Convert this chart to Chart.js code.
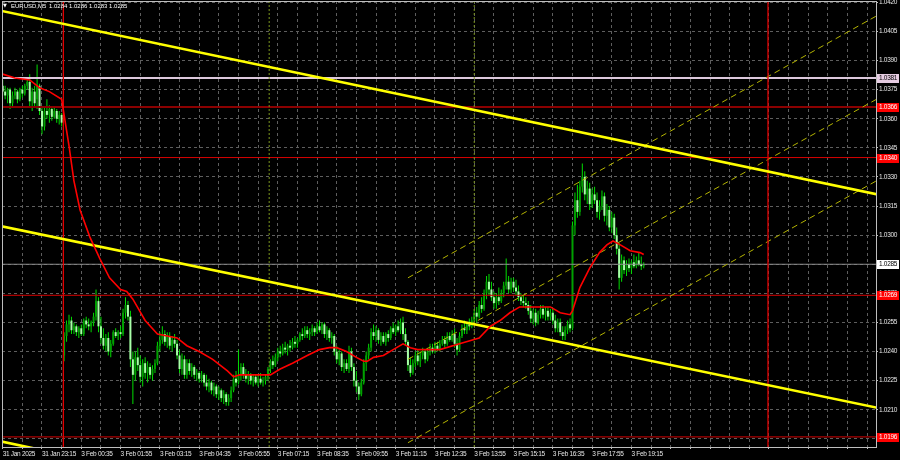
<!DOCTYPE html>
<html lang="en">
<head>
<meta charset="UTF-8">
<title>EURUSD,M5</title>
<script src="https://cdn.jsdelivr.net/npm/chart.js"></script>
<style>
  html, body { margin: 0; padding: 0; background: #000; }
  canvas { display: block; }
</style>
</head>
<body>
<canvas id="chart" width="900" height="460"></canvas>
<script>
// ---- data (EURUSD M5, bar 0 = 31 Jan 21:55) ----
const barOpen = [
  1.0377,1.0374,1.0372,1.0375,1.0368,1.0372,1.0374,1.0370,1.0375,1.0373,
  1.0377,1.0379,1.0369,1.0374,1.0370,1.0377,1.0364,1.0356,1.0364,1.0362,
  1.0365,1.0361,1.0364,1.0360,1.0362,1.0238,1.0248,1.0254,1.0256,1.0251,
  1.0253,1.0250,1.0252,1.0249,1.0256,1.0254,1.0253,1.0255,1.0258,1.0266,
  1.0253,1.0247,1.0243,1.0247,1.0240,1.0244,1.0250,1.0248,1.0250,1.0249,
  1.0260,1.0264,1.0258,1.0236,1.0228,1.0237,1.0233,1.0227,1.0234,1.0229,
  1.0232,1.0228,1.0231,1.0234,1.0243,1.0246,1.0249,1.0245,1.0248,1.0243,
  1.0246,1.0244,1.0238,1.0231,1.0236,1.0228,1.0234,1.0230,1.0232,1.0228,
  1.0229,1.0226,1.0228,1.0224,1.0222,1.0224,1.0220,1.0222,1.0218,1.0220,
  1.0216,1.0218,1.0214,1.0216,1.0220,1.0226,1.0224,1.0228,1.0232,1.0228,
  1.0226,1.0228,1.0225,1.0227,1.0224,1.0226,1.0224,1.0225,1.0227,1.0231,
  1.0235,1.0233,1.0237,1.0240,1.0239,1.0242,1.0241,1.0243,1.0242,1.0245,
  1.0244,1.0246,1.0249,1.0248,1.0251,1.0249,1.0250,1.0252,1.0250,1.0253,
  1.0251,1.0254,1.0249,1.0251,1.0247,1.0248,1.0240,1.0236,1.0239,1.0232,
  1.0234,1.0231,1.0240,1.0232,1.0225,1.0222,1.0218,1.0224,1.0234,1.0238,
  1.0242,1.0250,1.0248,1.0251,1.0246,1.0248,1.0245,1.0249,1.0247,1.0252,
  1.0250,1.0253,1.0251,1.0255,1.0249,1.0245,1.0233,1.0229,1.0234,1.0238,
  1.0235,1.0238,1.0240,1.0236,1.0240,1.0242,1.0240,1.0243,1.0241,1.0244,
  1.0246,1.0244,1.0248,1.0246,1.0249,1.0244,1.0241,1.0248,1.0252,1.0251,
  1.0254,1.0253,1.0256,1.0260,1.0258,1.0264,1.0262,1.0270,1.0276,1.0272,
  1.0268,1.0265,1.0268,1.0266,1.0270,1.0274,1.0276,1.0272,1.0276,1.0273,
  1.0271,1.0268,1.0266,1.0265,1.0264,1.0261,1.0257,1.0260,1.0255,1.0259,
  1.0262,1.0259,1.0261,1.0258,1.0260,1.0256,1.0252,1.0255,1.0250,1.0248,
  1.0251,1.0254,1.0252,1.0305,1.0318,1.0312,1.0325,1.0330,1.0321,1.0324,
  1.0316,1.0321,1.0318,1.0312,1.0315,1.0320,1.0310,1.0313,1.0304,1.0309,
  1.0300,1.0293,1.0278,1.0287,1.0282,1.0285,1.0283,1.0286,1.0284,1.0287,
  1.0285,1.0284
];
const barHigh = [
  1.0380,1.0377,1.0376,1.0376,1.0374,1.0376,1.0375,1.0376,1.0377,1.0378,
  1.0380,1.0383,1.0376,1.0377,1.0388,1.0378,1.0366,1.0366,1.0370,1.0367,
  1.0366,1.0366,1.0365,1.0364,1.0363,1.0250,1.0256,1.0259,1.0258,1.0255,
  1.0254,1.0253,1.0254,1.0257,1.0258,1.0257,1.0256,1.0260,1.0272,1.0268,
  1.0258,1.0252,1.0249,1.0250,1.0246,1.0251,1.0252,1.0251,1.0253,1.0262,
  1.0268,1.0266,1.0261,1.0240,1.0240,1.0242,1.0238,1.0236,1.0237,1.0235,
  1.0234,1.0233,1.0236,1.0245,1.0250,1.0253,1.0251,1.0250,1.0250,1.0248,
  1.0249,1.0246,1.0241,1.0239,1.0238,1.0236,1.0236,1.0234,1.0233,1.0231,
  1.0230,1.0230,1.0229,1.0228,1.0226,1.0225,1.0224,1.0223,1.0222,1.0221,
  1.0220,1.0219,1.0218,1.0222,1.0228,1.0230,1.0241,1.0234,1.0234,1.0231,
  1.0230,1.0229,1.0228,1.0228,1.0228,1.0229,1.0227,1.0228,1.0232,1.0236,
  1.0238,1.0239,1.0242,1.0243,1.0244,1.0245,1.0244,1.0246,1.0247,1.0248,
  1.0247,1.0250,1.0252,1.0253,1.0253,1.0252,1.0254,1.0253,1.0255,1.0256,
  1.0255,1.0255,1.0253,1.0252,1.0250,1.0249,1.0243,1.0241,1.0240,1.0236,
  1.0236,1.0243,1.0242,1.0234,1.0230,1.0224,1.0226,1.0236,1.0240,1.0244,
  1.0252,1.0254,1.0253,1.0252,1.0250,1.0250,1.0250,1.0251,1.0253,1.0255,
  1.0254,1.0256,1.0257,1.0258,1.0252,1.0246,1.0237,1.0236,1.0240,1.0241,
  1.0240,1.0242,1.0241,1.0242,1.0244,1.0244,1.0245,1.0245,1.0246,1.0248,
  1.0248,1.0250,1.0250,1.0251,1.0252,1.0247,1.0250,1.0254,1.0256,1.0255,
  1.0257,1.0258,1.0262,1.0263,1.0266,1.0268,1.0272,1.0279,1.0280,1.0276,
  1.0271,1.0270,1.0273,1.0272,1.0276,1.0288,1.0279,1.0278,1.0278,1.0277,
  1.0274,1.0270,1.0269,1.0268,1.0266,1.0264,1.0262,1.0262,1.0261,1.0264,
  1.0264,1.0263,1.0263,1.0262,1.0262,1.0259,1.0257,1.0257,1.0253,1.0253,
  1.0256,1.0257,1.0307,1.0322,1.0326,1.0328,1.0337,1.0333,1.0328,1.0327,
  1.0324,1.0325,1.0322,1.0318,1.0323,1.0322,1.0316,1.0315,1.0312,1.0311,
  1.0304,1.0296,1.0290,1.0289,1.0287,1.0288,1.0287,1.0290,1.0289,1.0291,
  1.0289,1.0286
];
const barLow = [
  1.0372,1.0370,1.0368,1.0365,1.0366,1.0370,1.0368,1.0369,1.0371,1.0372,
  1.0375,1.0366,1.0364,1.0366,1.0365,1.0362,1.0352,1.0354,1.0360,1.0358,
  1.0359,1.0360,1.0358,1.0357,1.0356,1.0235,1.0245,1.0250,1.0249,1.0249,
  1.0248,1.0247,1.0248,1.0248,1.0252,1.0251,1.0250,1.0253,1.0256,1.0250,
  1.0244,1.0241,1.0240,1.0238,1.0237,1.0243,1.0247,1.0246,1.0247,1.0248,
  1.0257,1.0256,1.0232,1.0213,1.0225,1.0230,1.0224,1.0222,1.0226,1.0224,
  1.0226,1.0225,1.0229,1.0233,1.0240,1.0244,1.0243,1.0242,1.0241,1.0240,
  1.0242,1.0236,1.0229,1.0228,1.0226,1.0226,1.0228,1.0227,1.0226,1.0225,
  1.0224,1.0224,1.0222,1.0220,1.0219,1.0218,1.0217,1.0216,1.0215,1.0214,
  1.0213,1.0212,1.0212,1.0214,1.0219,1.0222,1.0223,1.0225,1.0226,1.0224,
  1.0223,1.0223,1.0222,1.0223,1.0222,1.0223,1.0222,1.0223,1.0225,1.0229,
  1.0231,1.0232,1.0235,1.0237,1.0238,1.0239,1.0238,1.0240,1.0241,1.0242,
  1.0242,1.0245,1.0246,1.0247,1.0247,1.0246,1.0248,1.0248,1.0249,1.0250,
  1.0249,1.0247,1.0246,1.0245,1.0244,1.0238,1.0234,1.0233,1.0230,1.0229,
  1.0230,1.0229,1.0230,1.0222,1.0219,1.0215,1.0217,1.0223,1.0230,1.0236,
  1.0240,1.0246,1.0245,1.0244,1.0243,1.0244,1.0243,1.0245,1.0246,1.0249,
  1.0248,1.0250,1.0249,1.0246,1.0243,1.0230,1.0227,1.0228,1.0232,1.0233,
  1.0232,1.0236,1.0234,1.0235,1.0238,1.0239,1.0239,1.0240,1.0240,1.0243,
  1.0242,1.0243,1.0245,1.0245,1.0242,1.0238,1.0240,1.0247,1.0249,1.0249,
  1.0251,1.0252,1.0254,1.0255,1.0257,1.0260,1.0261,1.0267,1.0269,1.0266,
  1.0262,1.0262,1.0264,1.0265,1.0268,1.0272,1.0270,1.0270,1.0271,1.0269,
  1.0266,1.0264,1.0263,1.0262,1.0259,1.0255,1.0254,1.0253,1.0254,1.0257,
  1.0257,1.0256,1.0256,1.0256,1.0254,1.0250,1.0250,1.0248,1.0246,1.0246,
  1.0249,1.0250,1.0251,1.0300,1.0309,1.0310,1.0322,1.0318,1.0316,1.0313,
  1.0314,1.0316,1.0309,1.0308,1.0313,1.0307,1.0305,1.0302,1.0301,1.0298,
  1.0290,1.0272,1.0276,1.0280,1.0279,1.0281,1.0280,1.0283,1.0283,1.0284,
  1.0282,1.0283
];
const barClose = [
  1.0374,1.0372,1.0375,1.0368,1.0372,1.0374,1.0370,1.0375,1.0373,1.0377,
  1.0379,1.0369,1.0374,1.0368,1.0377,1.0364,1.0356,1.0364,1.0362,1.0365,
  1.0361,1.0364,1.0360,1.0362,1.0358,1.0248,1.0254,1.0256,1.0251,1.0253,
  1.0250,1.0252,1.0249,1.0256,1.0254,1.0253,1.0255,1.0258,1.0266,1.0253,
  1.0247,1.0243,1.0247,1.0240,1.0244,1.0250,1.0248,1.0250,1.0249,1.0260,
  1.0264,1.0258,1.0236,1.0228,1.0237,1.0233,1.0227,1.0234,1.0229,1.0232,
  1.0228,1.0231,1.0234,1.0243,1.0246,1.0249,1.0245,1.0248,1.0243,1.0246,
  1.0244,1.0238,1.0231,1.0236,1.0228,1.0234,1.0230,1.0232,1.0228,1.0229,
  1.0226,1.0228,1.0224,1.0222,1.0224,1.0220,1.0222,1.0218,1.0220,1.0216,
  1.0218,1.0214,1.0216,1.0220,1.0226,1.0224,1.0228,1.0232,1.0228,1.0226,
  1.0228,1.0225,1.0227,1.0224,1.0226,1.0224,1.0225,1.0227,1.0231,1.0235,
  1.0233,1.0237,1.0240,1.0239,1.0242,1.0241,1.0243,1.0242,1.0245,1.0244,
  1.0246,1.0249,1.0248,1.0251,1.0249,1.0250,1.0252,1.0250,1.0253,1.0251,
  1.0254,1.0249,1.0251,1.0247,1.0248,1.0240,1.0236,1.0239,1.0232,1.0234,
  1.0231,1.0240,1.0232,1.0225,1.0222,1.0218,1.0224,1.0234,1.0238,1.0242,
  1.0250,1.0248,1.0251,1.0246,1.0248,1.0245,1.0249,1.0247,1.0252,1.0250,
  1.0253,1.0251,1.0255,1.0249,1.0245,1.0233,1.0229,1.0234,1.0238,1.0235,
  1.0238,1.0240,1.0236,1.0240,1.0242,1.0240,1.0243,1.0241,1.0244,1.0246,
  1.0244,1.0248,1.0246,1.0249,1.0244,1.0241,1.0248,1.0252,1.0251,1.0254,
  1.0253,1.0256,1.0260,1.0258,1.0264,1.0262,1.0270,1.0276,1.0272,1.0268,
  1.0265,1.0268,1.0266,1.0270,1.0274,1.0276,1.0272,1.0276,1.0273,1.0271,
  1.0268,1.0266,1.0265,1.0264,1.0261,1.0257,1.0260,1.0255,1.0259,1.0262,
  1.0259,1.0261,1.0258,1.0260,1.0256,1.0252,1.0255,1.0250,1.0248,1.0251,
  1.0254,1.0252,1.0305,1.0318,1.0312,1.0325,1.0330,1.0321,1.0324,1.0316,
  1.0321,1.0318,1.0312,1.0315,1.0320,1.0310,1.0313,1.0304,1.0309,1.0300,
  1.0293,1.0278,1.0287,1.0282,1.0285,1.0283,1.0286,1.0284,1.0287,1.0285,
  1.0284,1.0285
];

// moving average (red), sampled along the curve: bar index / price
const maIndex = [0,5,11,15,19,24,25,27,29,31.5,35.5,39.5,43.5,48,50.5,53,58,63,67,71,75,80,85.5,88.5,91.5,94,
  96.5,101,105,109,113,118,124,129,133,136,140,144,147,148.5,151,155,159,163,166,169,173,178,186,194,
  198.5,202.5,206.5,210.5,215,219,223,227,231,232,235,239,243,246,248.5,251.5,255.5,259.5,261];
const maValue = [1.0383,1.0381,1.0380,1.0376,1.0374,1.0370,1.0362,1.0346,1.0328,1.0313,1.0299,1.0288,1.0278,1.0272,1.0271,1.0267,1.0256,1.0249,1.0248,1.0247,1.0243,1.0240,1.0236,1.0233,1.0230,1.0227,
  1.0228,1.0228,1.0228,1.0228,1.0231,1.0234,1.0238,1.0241,1.0242,1.0242,1.0240,1.0237,1.0235,1.0235,1.0237,1.0238,1.0241,1.0244,1.0242,1.0241,1.0241,1.0241,1.0244,1.0247,
  1.0253,1.0256,1.0260,1.0263,1.0263,1.0263,1.0263,1.0260,1.0259,1.0261,1.0273,1.0283,1.0291,1.0295,1.0297,1.0295,1.0292,1.0291,1.0290];

// trend lines: [bar index, price] at both ends
const trendUpper  = [[-2, 1.0416], [360, 1.0320]];
const trendLower  = [[-2, 1.0305], [360, 1.0210]];
const trendBottom = [[-2, 1.0194], [360, 1.0098]];
const channelTop  = [[165, 1.0278], [360, 1.0416]];
const channelMid  = [[165, 1.0236], [360, 1.0373]];
const channelLow  = [[165, 1.0193], [360, 1.0331]];

// horizontal levels and vertical markers
const levelPink   = 1.0381;
const levelMaroon = 1.0366;
const levelsRed   = [1.0340, 1.0269, 1.0196];
const bidPrice    = 1.0285;
const daySeparators = [24.7, 311.6];
const markerLines   = [108.5, 192];

// axis ticks
const yTicks = [1.0420,1.0405,1.0390,1.0375,1.0360,1.0345,1.0330,1.0315,1.0300,1.0285,1.0270,1.0255,1.0240,1.0225,1.0210,1.0195];
const xTickLabels = ['31 Jan 2025','31 Jan 23:15','3 Feb 00:35','3 Feb 01:55','3 Feb 03:15','3 Feb 04:35',
  '3 Feb 05:55','3 Feb 07:15','3 Feb 08:35','3 Feb 09:55','3 Feb 11:15','3 Feb 12:35','3 Feb 13:55',
  '3 Feb 15:15','3 Feb 16:35','3 Feb 17:55','3 Feb 19:15'];
const symbolName = 'EURUSD,M5';

// visible range
const X_MIN = -0.285, X_MAX = 355.58;
const Y_MIN = 1.01908, Y_MAX = 1.04207;

const FONT = "'Liberation Sans', Arial, sans-serif";
const BULL = '#00A000', BEAR = '#A8FFA8', WICK = '#00DC00';

// ---- helpers ----
const pts = arr => arr.map(p => ({ x: p[0], y: p[1] }));
const line = (data, color, width, extra) => Object.assign({
  type: 'line', data: data, borderColor: color, borderWidth: width,
  pointRadius: 0, fill: false, clip: 0, order: 2
}, extra || {});
const hLine = (v, color, width) => line([{ x: X_MIN, y: v }, { x: X_MAX, y: v }], color, width, { order: 3 });
const vLine = (v, color, width, extra) => line([{ x: v, y: Y_MIN }, { x: v, y: Y_MAX }], color, width, extra);

const wickData = barHigh.map((h, i) => ({ x: i, y: [barLow[i], h] }));
const bodyData = barOpen.map((o, i) => ({ x: i, y: [o, barClose[i]] }));
const bodyColors = barOpen.map((o, i) => barClose[i] >= o ? BULL : BEAR);
const maData = maIndex.map((x, k) => ({ x: x, y: maValue[k] }));

const datasets = [
  { type: 'bar', data: wickData, backgroundColor: WICK, barThickness: 1, grouped: false, inflateAmount: 0, order: 6 },
  { type: 'bar', data: bodyData, backgroundColor: bodyColors, barThickness: 2, minBarLength: 1, grouped: false, inflateAmount: 0, order: 5 },
  hLine(levelPink, '#DCC8DC', 2.2),
  hLine(levelMaroon, '#8B0000', 2),
  ...levelsRed.map(v => hLine(v, '#D80000', 1)),
  hLine(bidPrice, '#8A8A8A', 1),
  ...daySeparators.map(v => vLine(v, '#E00000', 1.3)),
  ...markerLines.map(v => vLine(v, '#7A961C', 1, { borderDash: [2, 2] })),
  line(pts(channelTop), '#B4B400', 1, { borderDash: [6, 4] }),
  line(pts(channelMid), '#B4B400', 1, { borderDash: [6, 4] }),
  line(pts(channelLow), '#B4B400', 1, { borderDash: [6, 4] }),
  line(pts(trendUpper), '#FFFF00', 2.6, { order: 1 }),
  line(pts(trendLower), '#FFFF00', 2.6, { order: 1 }),
  line(pts(trendBottom), '#FFFF00', 2.6, { order: 1 }),
  line(maData, '#FF0000', 1.6, { order: 0 })
];

const tags = [
  { v: levelPink, bg: '#E6CCE2', fg: '#000000' },
  { v: levelMaroon, bg: '#FF0000', fg: '#FFFFFF' },
  { v: levelsRed[0], bg: '#FF0000', fg: '#FFFFFF' },
  { v: bidPrice, bg: '#FFFFFF', fg: '#000000' },
  { v: levelsRed[1], bg: '#FF0000', fg: '#FFFFFF' },
  { v: levelsRed[2], bg: '#FF0000', fg: '#FFFFFF' }
];

const overlay = {
  id: 'overlay',
  beforeDraw(chart) {
    // MT4 axis labels are a little tighter than Liberation Sans
    chart.ctx.letterSpacing = '-0.3px';
  },
  afterDraw(chart) {
    const { ctx, chartArea: a, scales: { y } } = chart;
    ctx.save();
    ctx.strokeStyle = '#BEBEBE';
    ctx.lineWidth = 1;
    ctx.strokeRect(a.left + 0.5, a.top + 0.5, a.right - a.left, a.bottom - a.top);

    ctx.font = '6.5px ' + FONT;
    ctx.textBaseline = 'middle';
    ctx.textAlign = 'left';
    tags.forEach(t => {
      const py = Math.round(y.getPixelForValue(t.v));
      ctx.fillStyle = t.bg;
      ctx.fillRect(a.right + 1, py - 4, 22, 9);
      ctx.fillStyle = t.fg;
      ctx.fillText(t.v.toFixed(4), a.right + 3, py + 0.5);
    });

    // symbol header
    const n = barClose.length - 1;
    ctx.letterSpacing = '0px';
    ctx.fillStyle = '#FFFFFF';
    ctx.font = '5px DejaVu Sans';
    ctx.fillText('\u25BC', 3, 6);
    ctx.font = '6px ' + FONT;
    ctx.fillText(symbolName, 11, 6);
    ctx.fillText([barOpen[n], barHigh[n], barLow[n], barClose[n]].map(v => v.toFixed(4)).join(' '), 49, 6);
    ctx.restore();
  }
};

new Chart(document.getElementById('chart'), {
  type: 'bar',
  data: { datasets: datasets },
  options: {
    responsive: false,
    animation: false,
    devicePixelRatio: 1,
    events: [],
    layout: { padding: { left: 2, top: 1, right: 0, bottom: 0 } },
    plugins: { legend: { display: false }, tooltip: { enabled: false }, title: { display: false } },
    scales: {
      x: {
        type: 'linear', min: X_MIN, max: X_MAX, offset: false, bounds: 'data',
        grid: { color: '#5E5E5E', offset: false, drawTicks: true, tickLength: 2, tickColor: '#BEBEBE' },
        border: { display: true, color: '#BEBEBE', dash: [3, 3] },
        ticks: {
          autoSkip: false, maxRotation: 0, minRotation: 0, align: 'start', padding: 1,
          color: '#E6E6E6', font: { family: FONT, size: 6.5 },
          callback: v => (v % 16 === 0 ? (xTickLabels[v / 16] || '') : '')
        },
        afterBuildTicks: s => {
          const t = [];
          for (let i = 0; i <= X_MAX; i += 8) t.push({ value: i });
          s.ticks = t;
        },
        afterFit: s => { s.height = 13; s.paddingLeft = 0; s.paddingRight = 0; }
      },
      y: {
        type: 'linear', position: 'right', min: Y_MIN, max: Y_MAX, beginAtZero: false, bounds: 'data',
        grid: { color: '#5E5E5E', drawTicks: true, tickLength: 2, tickColor: '#BEBEBE' },
        border: { display: true, color: '#BEBEBE', dash: [3, 3] },
        ticks: {
          padding: 1, color: '#E6E6E6', font: { family: FONT, size: 6.5 },
          callback: v => v.toFixed(4)
        },
        afterBuildTicks: s => { s.ticks = yTicks.map(v => ({ value: v })); },
        afterFit: s => { s.width = 24; s.paddingTop = 0; s.paddingBottom = 0; }
      }
    }
  },
  plugins: [overlay]
});
</script>
</body>
</html>
